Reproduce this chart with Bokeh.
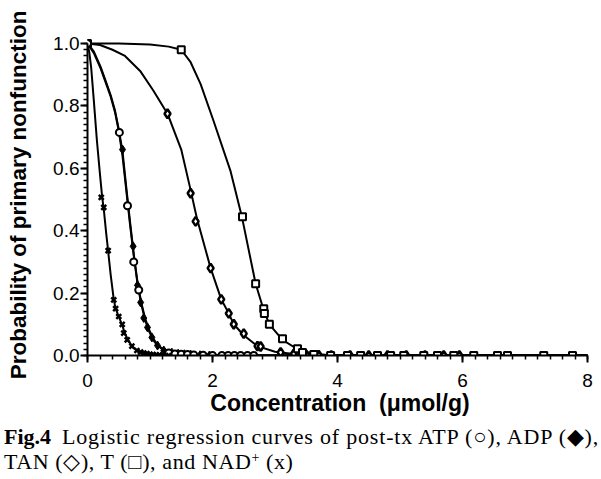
from bokeh.plotting import figure
from bokeh.layouts import column
from bokeh.models import FixedTicker, NumeralTickFormatter, Range1d, Div
from bokeh.embed import file_html
from bokeh.resources import INLINE

# ---------------- data ----------------
# fitted curves
nad_curve_x = [0, 0.03, 0.06, 0.10, 0.15, 0.20, 0.235, 0.26, 0.30, 0.33, 0.37, 0.42, 0.45, 0.50, 0.55, 0.60, 0.65, 0.71, 0.79, 0.90, 1.05, 1.30, 1.60, 8.0]
nad_curve_y = [1.0, 0.97, 0.92, 0.82, 0.69, 0.58, 0.507, 0.47, 0.39, 0.335, 0.26, 0.18, 0.15, 0.125, 0.10, 0.07, 0.05, 0.03, 0.016, 0.007, 0.003, 0.001, 0.0, 0.0]

atp_curve_x = [0, 0.10, 0.21, 0.30, 0.37, 0.44, 0.50, 0.56, 0.62, 0.68, 0.74, 0.80, 0.86, 0.92, 0.98, 1.05, 1.12, 1.22, 1.35, 1.50, 1.80, 2.20, 8.0]
atp_curve_y = [1.0, 0.97, 0.92, 0.87, 0.83, 0.78, 0.72, 0.64, 0.53, 0.42, 0.32, 0.23, 0.165, 0.115, 0.08, 0.05, 0.032, 0.017, 0.008, 0.004, 0.001, 0.0, 0.0]

adp_curve_x = [0, 0.10, 0.21, 0.30, 0.37, 0.44, 0.50, 0.56, 0.62, 0.68, 0.74, 0.80, 0.86, 0.92, 0.98, 1.05, 1.12, 1.22, 1.35, 1.50, 1.80, 2.20, 8.0]
adp_curve_y = [1.0, 0.975, 0.925, 0.875, 0.835, 0.785, 0.725, 0.655, 0.54, 0.43, 0.325, 0.235, 0.17, 0.12, 0.085, 0.055, 0.034, 0.018, 0.009, 0.004, 0.001, 0.0, 0.0]

tan_curve_x = [0, 0.20, 0.40, 0.60, 0.85, 1.05, 1.28, 1.50, 1.65, 1.75, 1.97, 2.14, 2.26, 2.34, 2.50, 2.72, 3.00, 3.30, 3.70, 4.50, 8.0]
tan_curve_y = [1.0, 0.995, 0.98, 0.96, 0.91, 0.85, 0.775, 0.66, 0.53, 0.44, 0.28, 0.18, 0.135, 0.10, 0.065, 0.03, 0.012, 0.005, 0.001, 0.0, 0.0]

t_curve_x = [0, 0.50, 1.00, 1.30, 1.50, 1.65, 1.81, 2.02, 2.29, 2.47, 2.69, 2.82, 2.91, 3.12, 3.36, 3.60, 3.90, 4.50, 8.0]
t_curve_y = [1.0, 1.0, 0.997, 0.99, 0.98, 0.94, 0.87, 0.75, 0.59, 0.445, 0.23, 0.145, 0.10, 0.05, 0.02, 0.006, 0.001, 0.0, 0.0]

# observed points
nad_x = [0.22, 0.26, 0.33, 0.42, 0.45, 0.50, 0.555, 0.58, 0.635, 0.71, 0.79, 0.85, 0.90, 0.95, 1.00, 1.05, 1.10, 1.15, 1.20, 1.30]
nad_y = [0.507, 0.475, 0.336, 0.178, 0.15, 0.125, 0.10, 0.072, 0.05, 0.03, 0.016, 0.011, 0.008, 0.006, 0.004, 0.003, 0.002, 0.001, 0.001, 0.0]

atp_x = [0.0, 0.51, 0.64, 0.74, 0.82, 1.30, 1.40, 1.50, 1.60, 1.70, 1.85, 2.00, 2.15, 2.25, 2.35, 2.45, 2.56, 2.66]
atp_y = [1.0, 0.715, 0.48, 0.30, 0.21, 0.008, 0.005, 0.004, 0.003, 0.002, 0.001, 0.0, 0.0, 0.0, 0.0, 0.0, 0.0, 0.0]

adp_x = [0.56, 0.73, 0.80, 0.85, 0.90, 0.96, 1.03, 1.12, 1.22, 1.35, 1.45, 1.55, 1.65, 1.80, 1.95]
adp_y = [0.66, 0.35, 0.225, 0.17, 0.12, 0.09, 0.058, 0.032, 0.016, 0.009, 0.006, 0.004, 0.003, 0.001, 0.0]

tan_x = [1.28, 1.65, 1.73, 1.97, 2.14, 2.26, 2.34, 2.50, 2.72, 2.77, 3.09, 3.30, 3.50, 3.70, 3.90, 4.20, 4.50, 4.80, 5.10, 5.40, 5.70, 5.95]
tan_y = [0.775, 0.52, 0.43, 0.28, 0.18, 0.135, 0.10, 0.07, 0.03, 0.029, 0.01, 0.005, 0.002, 0.001, 0.0, 0.0, 0.0, 0.0, 0.0, 0.0, 0.0, 0.0]

t_x = [0.0, 1.50, 2.48, 2.69, 2.82, 2.83, 2.91, 3.12, 3.36, 3.44, 3.62, 3.89, 4.16, 4.37, 4.64, 4.85, 5.06, 5.38, 5.60, 5.86, 6.18, 6.56, 6.72, 7.30, 7.76]
t_y = [1.0, 0.98, 0.445, 0.23, 0.15, 0.135, 0.10, 0.054, 0.022, 0.01, 0.003, 0.0, 0.0, 0.0, 0.0, 0.0, 0.0, 0.0, 0.0, 0.0, 0.0, 0.0, 0.0, 0.0, 0.0]

x_ticks = [0, 2, 4, 6, 8]
y_ticks = [0.0, 0.2, 0.4, 0.6, 0.8, 1.0]
x_minor = [i * 0.2 for i in range(41)]
y_minor = [i * 0.02 for i in range(51)]

x_title = "Concentration\u00a0\u00a0(\u03bcmol/g)"
y_title = "Probability of primary nonfunction"
caption_bold = "Fig.4"
caption_1 = "Logistic regression curves of post-tx ATP (\u25cb), ADP (\u25c6),"
caption_2 = ("TAN (\u25c7), T (\u25a1), and NAD"
             "<span style=\"position:relative; top:-7px; font-size:14px; line-height:0;\">+</span> (x)")

# ---------------- main figure ----------------
SANS = "Liberation Sans"
W = 601
H_MAIN = 421
H_CAP = 58

p = figure(width=W, height=H_MAIN, output_backend="svg", toolbar_location=None,
           x_range=Range1d(0, 8.08), y_range=Range1d(0, 1 + 9 / 312),
           min_border_left=87, min_border_right=9, min_border_top=34, min_border_bottom=66)
p.outline_line_color = None
p.grid.visible = False
p.background_fill_color = "white"
p.border_fill_color = "white"

for ax in (p.xaxis[0], p.yaxis[0]):
    ax.axis_line_width = 2
    ax.axis_line_color = "black"
    ax.major_tick_line_width = 2
    ax.minor_tick_line_width = 1.5
    ax.major_tick_in = 0
    ax.minor_tick_in = 0
    ax.major_tick_out = 7
    ax.minor_tick_out = 4
    ax.major_label_text_font = SANS
    ax.major_label_text_font_size = "19px"
    ax.major_label_text_color = "black"
    ax.axis_label_text_font = SANS
    ax.axis_label_text_font_style = "bold"
    ax.axis_label_text_color = "black"

p.xaxis.axis_label_text_font_size = "23px"
p.yaxis.axis_label_text_font_size = "22.5px"
p.xaxis.ticker = FixedTicker(ticks=x_ticks, minor_ticks=x_minor)
p.yaxis.ticker = FixedTicker(ticks=y_ticks, minor_ticks=y_minor)
p.yaxis.formatter = NumeralTickFormatter(format="0.0")
p.xaxis.bounds = (0, 8)
p.yaxis.bounds = (0, 1)
p.xaxis.major_label_standoff = 11
p.yaxis.major_label_standoff = 1
p.xaxis.axis_label = x_title
p.yaxis.axis_label = y_title
p.xaxis.axis_label_standoff = 0
p.yaxis.axis_label_standoff = 19

# curves
for cx, cy in ((nad_curve_x, nad_curve_y), (atp_curve_x, atp_curve_y), (adp_curve_x, adp_curve_y),
               (tan_curve_x, tan_curve_y), (t_curve_x, t_curve_y)):
    p.line(cx, cy, line_color="black", line_width=2)

# markers
p.scatter(tan_x, tan_y, marker="diamond", size=9, fill_color="white", line_color="black", line_width=2.5)
p.scatter(t_x, t_y, marker="square", size=7, fill_color="white", line_color="black", line_width=2)
p.scatter(adp_x, adp_y, marker="diamond", size=9, fill_color="black", line_color="black", line_width=1)
p.scatter(atp_x, atp_y, marker="circle", size=7, fill_color="white", line_color="black", line_width=2)
p.scatter(nad_x, nad_y, marker="x", size=7, line_color="black", line_width=2.5)

# ---------------- caption ----------------
cap_html = (
    '<div style="font-family:\'Liberation Serif\'; font-size:22px; line-height:25px; color:black; '
    'white-space:nowrap; padding-top:3px; padding-left:4px;">'
    '<div style="letter-spacing:0.8px; height:25px;"><span style="display:inline-block; width:58px; letter-spacing:0;">'
    '<b>' + caption_bold + '</b></span>' + caption_1 + '</div>'
    '<div style="letter-spacing:0.6px; height:25px;">' + caption_2 + '</div>'
    '</div>'
)
cap = Div(text=cap_html, width=W, height=H_CAP, margin=0)

layout = column(p, cap, spacing=0)
open("out.html", "w").write(file_html(layout, INLINE))
